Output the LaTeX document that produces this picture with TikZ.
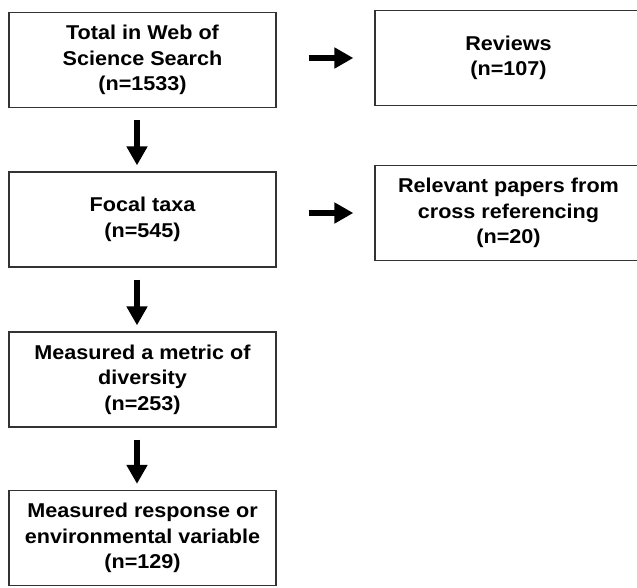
\documentclass[tikz,border=0pt]{standalone}
\usepackage{fontspec}
\setmainfont[FakeStretch=1.08]{Liberation Sans}
\usetikzlibrary{arrows.meta}

\tikzset{
  box/.style={draw=black!80,line width=1.3pt,minimum width=267pt,minimum height=95pt,
    inner sep=0pt,align=center,font=\fontsize{20}{25.5}\selectfont\bfseries},
  flow/.style={line width=6.5pt,-{Triangle[length=19pt,width=20pt]}}
}

\begin{document}
\begin{tikzpicture}[x=1pt,y=-1pt]
\clip (0,0) rectangle (637,587);
\node[box] (total) at (142.5,60) {Total in Web of\\Science Search\\(n=1533)};
\node[box] (reviews) at (508.5,58) {Reviews\\(n=107)};
\node[box] (focal) at (142.5,219.5) {Focal taxa\\(n=545)};
\node[box] (crossref) at (508.5,213) {Relevant papers from\\cross referencing\\(n=20)};
\node[box] (metric) at (142.5,379.5) {Measured a metric of\\diversity\\(n=253)};
\node[box] (response) at (142.5,538) {Measured response or\\environmental variable\\(n=129)};
\foreach \from/\to in {total/focal,focal/metric,metric/response}
  \draw[flow,shorten <=12pt,shorten >=6pt] ([xshift=-5.5pt]\from.south) -- ([xshift=-5.5pt]\to.north);
\foreach \from/\to in {total/reviews,focal/crossref}
  \draw[flow,shorten <=32pt,shorten >=21pt] (\to.west -| \from.east) -- (\to.west);
\end{tikzpicture}
\end{document}
